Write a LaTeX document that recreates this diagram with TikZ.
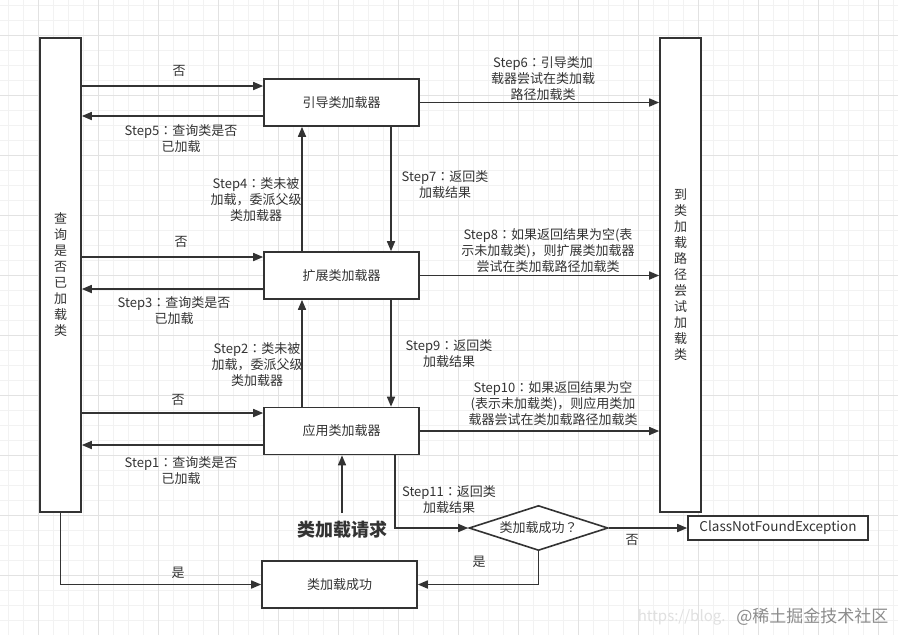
\documentclass[tikz,border=0pt]{standalone}
\usepackage{fontspec}
\setmainfont{Noto Sans CJK SC}
\newfontfamily\cjkjp{Noto Sans CJK JP}
\newcommand{\fwcolon}{{\cjkjp ：}}
\usetikzlibrary{arrows.meta,positioning,shapes.geometric}
\definecolor{ink}{HTML}{333333}
\definecolor{gridminor}{HTML}{F2F2F2}
\definecolor{gridmajor}{HTML}{E2E2E2}

\begin{document}
\begin{tikzpicture}[>={Triangle[length=10pt,width=8pt]}, x=1pt, y=-1pt,
    every node/.style={font=\fontsize{13}{16}\selectfont, text=ink, align=center},
    box/.style={draw=ink, line width=1.6pt, fill=white, minimum width=155pt, minimum height=47pt, inner sep=0pt},
    tall/.style={draw=ink, line width=1.6pt, fill=white, minimum width=41pt, minimum height=474pt, inner sep=0pt},
    arr/.style={->, draw=ink, line width=1.6pt}]
    \path[use as bounding box, fill=white] (0,0) rectangle (898,635);
    % background grid
    \foreach \gx in {8,23,...,893} \draw[gridminor, line width=0.8pt] (\gx,0) -- (\gx,635);
    \foreach \gy in {5,20,...,635} \draw[gridminor, line width=0.8pt] (0,\gy) -- (898,\gy);
    \foreach \gx in {38,98,...,878} \draw[gridmajor, line width=0.8pt] (\gx,0) -- (\gx,635);
    \foreach \gy in {35,95,...,635} \draw[gridmajor, line width=0.8pt] (0,\gy) -- (898,\gy);
    % boxes
    \node[tall] (query) at (60.5,275) {查\\询\\是\\否\\已\\加\\载\\类};
    \node[tall] (path) at (680.5,275) {到\\类\\加\\载\\路\\径\\尝\\试\\加\\载\\类};
    \node[box] (boot) at (341.5,102.5) {引导类加载器};
    \node[box] (ext) at (341.5,275.5) {扩展类加载器};
    \node[box] (app) at (341.5,431) {应用类加载器};
    \node[box] (ok) at (339.5,584.5) {类加载成功};
    \node[draw=ink, line width=1.6pt, fill=white, shape=diamond, aspect=3, inner sep=0pt, minimum width=139pt, minimum height=45pt] (dec) at (538.5,528) {类加载成功{\cjkjp ？}};
    \node[draw=ink, line width=1.6pt, fill=white, minimum width=180pt, minimum height=24pt, inner sep=0pt, font=\fontsize{13.5}{15}\selectfont] (cnf) at (778,528) {ClassNotFoundException};
    \node[inner sep=1pt, font=\fontsize{18}{20}\selectfont\bfseries] (req) at (342,530) {类加载请求};
    % rows and columns of the connectors
    \coordinate (r1) at (0,86);
    \coordinate (r2) at (0,116);
    \coordinate (r3) at (0,257);
    \coordinate (r4) at (0,289);
    \coordinate (r5) at (0,413);
    \coordinate (r6) at (0,445);
    \coordinate (c1) at (302,0);
    \coordinate (c2) at (391,0);
    \coordinate (c3) at (395,0);
    \coordinate (reqtop) at (342,513);
    % query / loader arrows
    \draw[arr] (query.east |- r1) -- (boot.west |- r1);
    \draw[arr] (boot.west |- r2) -- (query.east |- r2);
    \draw[arr] (query.east |- r3) -- (ext.west |- r3);
    \draw[arr] (ext.west |- r4) -- (query.east |- r4);
    \draw[arr] (query.east |- r5) -- (app.west |- r5);
    \draw[arr] (app.west |- r6) -- (query.east |- r6);
    % delegation up, results down
    \draw[arr] (ext.north -| c1) -- (boot.south -| c1);
    \draw[arr] (app.north -| c1) -- (ext.south -| c1);
    \draw[arr] (boot.south -| c2) -- (ext.north -| c2);
    \draw[arr] (ext.south -| c2) -- (app.north -| c2);
    % try loading from the path
    \draw[arr] (boot.east) -- (path.west |- boot.east);
    \draw[arr] (ext.east) -- (path.west |- ext.east);
    \draw[arr] (app.east) -- (path.west |- app.east);
    % request and result
    \draw[arr] (reqtop) -- (app.south -| reqtop);
    \draw[arr] (app.south -| c3) |- (dec.west);
    \draw[arr] (dec.east) -- (cnf.west);
    \draw[arr] (dec.south) |- (ok.east);
    \draw[arr] (query.south) |- (ok.west);
    % labels
    \node (no1) at (179,71) {否};
    \node (no2) at (181,242) {否};
    \node (no3) at (178,400) {否};
    \node (no4) at (632,540) {否};
    \node (yes1) at (178,573) {是};
    \node (yes2) at (479,562) {是};
    \node (s5) at (181,139) {Step5\fwcolon 查询类是否\\已加载};
    \node (s3) at (174,311) {Step3\fwcolon 查询类是否\\已加载};
    \node (s1) at (181,471) {Step1\fwcolon 查询类是否\\已加载};
    \node (s4) at (256,200) {Step4\fwcolon 类未被\\加载，委派父级\\类加载器};
    \node (s2) at (257,365) {Step2\fwcolon 类未被\\加载，委派父级\\类加载器};
    \node (s7) at (445,185) {Step7\fwcolon 返回类\\加载结果};
    \node (s9) at (449,354) {Step9\fwcolon 返回类\\加载结果};
    \node (s11) at (449,500) {Step11\fwcolon 返回类\\加载结果};
    \node (s6) at (543,79) {Step6\fwcolon 引导类加\\载器尝试在类加载\\路径加载类};
    \node (s8) at (548,251) {Step8\fwcolon 如果返回结果为空(表\\示未加载类)，则扩展类加载器\\尝试在类加载路径加载类};
    \node (s10) at (553,404) {Step10\fwcolon 如果返回结果为空\\(表示未加载类)，则应用类加\\载器尝试在类加载路径加载类};
    % watermark
    \node[text=black!12, font=\fontsize{15}{16}\selectfont, anchor=east] (wm1) at (729,617) {https://blog.};
    \node[text=black!45, font=\fontsize{17}{18}\selectfont, anchor=east] (wm2) at (892,617) {@稀土掘金技术社区};
\end{tikzpicture}
\end{document}
